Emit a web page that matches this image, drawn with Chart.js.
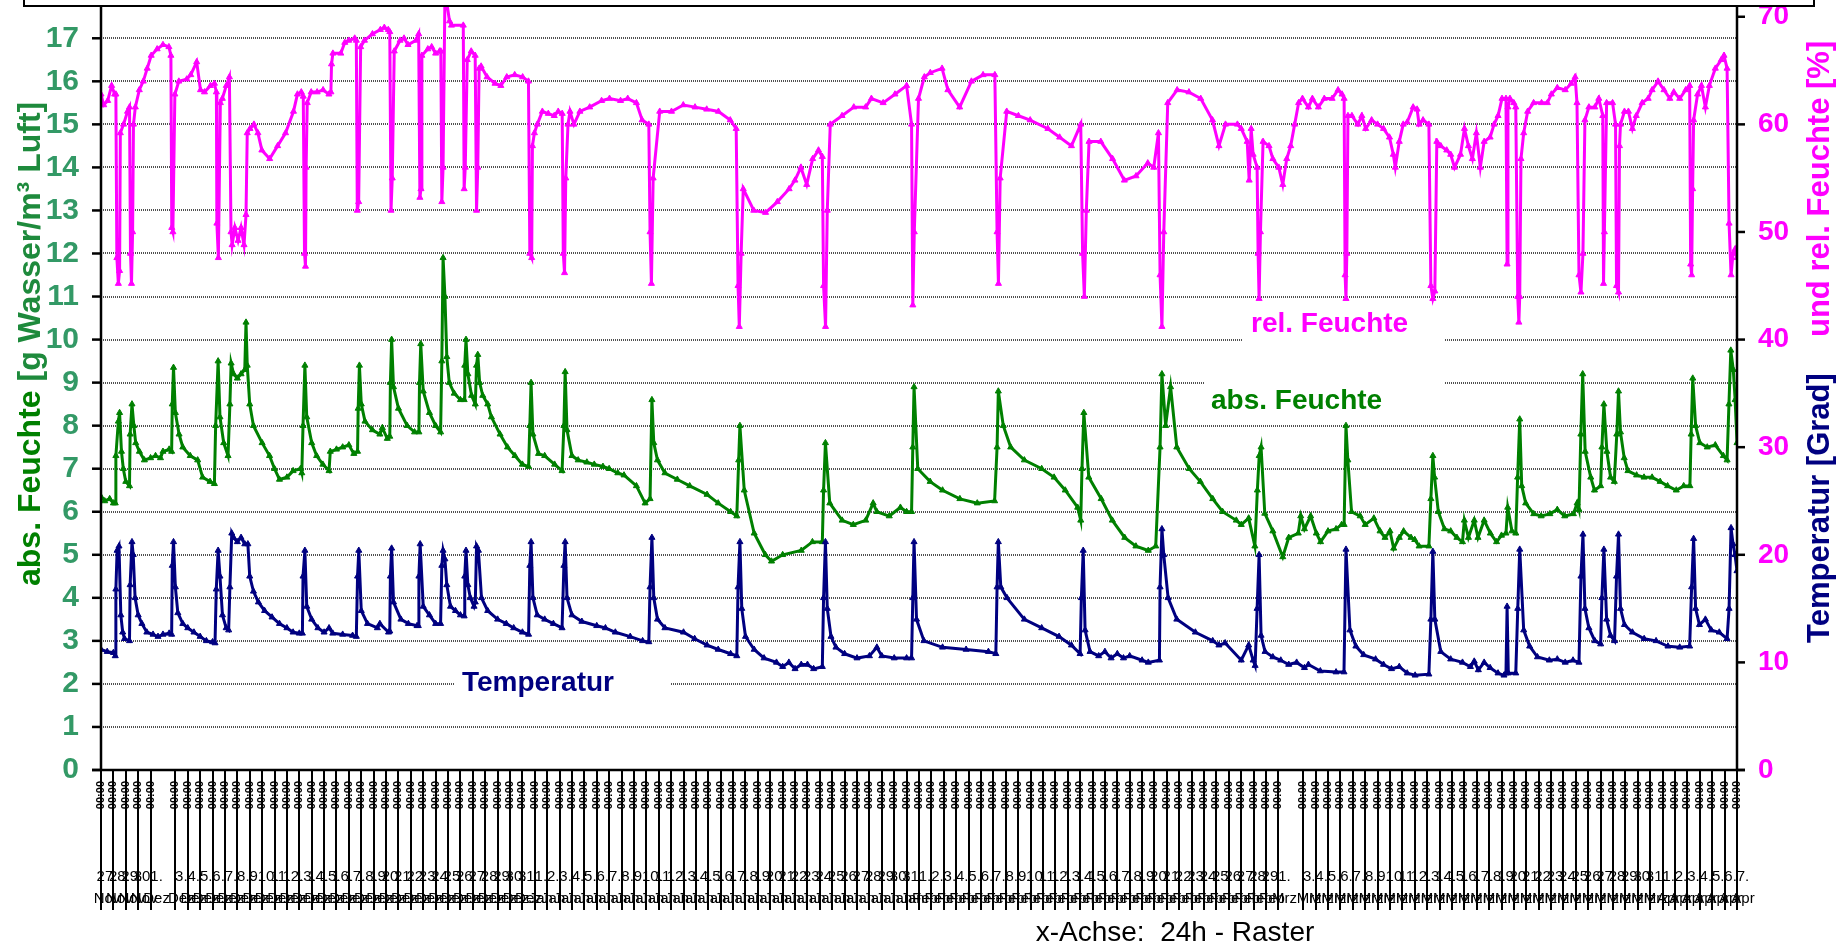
<!DOCTYPE html>
<html><head><meta charset="utf-8">
<script src="https://cdn.jsdelivr.net/npm/chart.js@4.4.1/dist/chart.umd.min.js"></script>
<style>html,body{margin:0;padding:0;background:#fff;overflow:hidden}</style>
</head><body>
<canvas id="c" width="1845" height="946"></canvas>
<script>
const SANS = "'Liberation Sans', Arial, sans-serif";
const NARROW = "'Liberation Sans Narrow', 'Arial Narrow', 'Liberation Sans', Arial, sans-serif";

// x axis: days since 27 Nov 00:00 (24h grid)
const monthSpans = [['Nov',27,30],['Dez',1,31],['Jan',1,31],['Feb',1,29],['Mrz',1,31],['Apr',1,7]];
const skippedDays = [5, 96];
const leftTicks = [0,1,2,3,4,5,6,7,8,9,10,11,12,13,14,15,16,17];
const rightTicks = [0,10,20,30,40,50,60,70];

// Temperatur [Grad] (right axis)
const temperatur = [
[0,11.2],[0.5,11.0],[1.0,10.9],[1.15,10.6],[1.2,16.8],[1.3,20.4],[1.45,20.8],[1.6,14.4],[1.75,12.8],[1.9,12.2],[2.3,12.0],[2.35,17.2],[2.5,21.2],[2.6,20.0],[2.75,16.0],[3.0,14.4],[3.3,13.6],[3.7,12.8],[4.2,12.6],[4.6,12.4],[5.0,12.6],[5.5,12.7],[5.7,12.6],[5.75,19.0],[5.85,21.2],[6.0,17.0],[6.2,14.6],[6.6,13.6],[7.0,13.2],[7.5,12.8],[8.0,12.4],[8.5,12.0],[9.0,11.9],[9.2,11.8],[9.3,16.8],[9.45,20.4],[9.6,18.0],[9.8,14.4],[10.1,13.2],[10.3,13.0],[10.4,17.0],[10.55,22.0],[10.7,21.6],[11.0,21.2],[11.3,21.6],[11.6,21.0],[11.85,21.0],[12.0,18.0],[12.3,16.6],[12.7,15.6],[13.2,14.8],[13.8,14.2],[14.4,13.6],[15.0,13.2],[15.5,12.8],[16.0,12.7],[16.25,12.7],[16.3,18.0],[16.45,20.4],[16.6,15.2],[17.0,14.0],[17.5,13.2],[18.0,12.8],[18.4,13.2],[18.7,12.7],[19.5,12.6],[20.3,12.5],[20.6,12.4],[20.7,18.0],[20.8,20.4],[21.0,14.8],[21.5,13.6],[22.3,13.2],[22.5,13.6],[23.2,12.8],[23.3,12.9],[23.35,18.0],[23.45,20.6],[23.6,15.6],[24.2,14.0],[24.8,13.6],[25.5,13.4],[25.6,13.4],[25.65,18.0],[25.75,21.0],[26.0,15.2],[26.5,14.4],[27.0,13.6],[27.4,13.6],[27.5,19.0],[27.6,20.4],[27.75,19.6],[27.9,17.2],[28.2,15.2],[28.6,14.8],[29.0,14.4],[29.3,14.3],[29.35,18.0],[29.45,20.4],[29.6,17.2],[29.8,16.0],[30.1,15.2],[30.2,15.6],[30.3,20.8],[30.45,20.4],[30.7,16.0],[31.2,14.8],[32.0,14.0],[32.7,13.6],[33.3,13.2],[34.0,12.8],[34.5,12.6],[34.6,19.0],[34.7,21.2],[34.85,16.0],[35.2,14.4],[35.8,14.0],[36.5,13.6],[37.2,13.2],[37.35,19.0],[37.45,21.2],[37.6,16.0],[38.0,14.4],[38.8,13.8],[40.0,13.4],[40.7,13.2],[41.5,12.8],
[42.7,12.4],[43.7,12.0],[44.2,11.9],[44.3,17.0],[44.45,21.6],[44.6,16.0],[44.9,14.0],[45.5,13.2],[47.0,12.8],[47.9,12.2],[48.9,11.6],[49.8,11.2],[50.8,10.8],[51.3,10.6],[51.4,17.0],[51.55,21.2],[51.7,15.0],[52.0,12.4],[52.7,11.2],[53.5,10.4],[54.5,10.0],[55.0,9.6],[55.5,10.0],[56.0,9.4],[56.5,9.8],[57.0,9.8],[57.5,9.4],[58.2,9.6],[58.3,16.0],[58.45,21.2],[58.6,15.0],[58.9,12.4],[59.3,11.4],[60.0,10.8],[61.0,10.4],[62.0,10.6],[62.6,11.4],[63.0,10.6],[64.0,10.4],[65.0,10.4],[65.4,10.4],[65.5,16.0],[65.6,21.2],[65.8,14.0],[66.4,12.0],[67.9,11.4],[69.8,11.2],[71.6,11.0],[72.2,10.8],[72.3,17.0],[72.4,21.2],[72.6,17.0],[73.1,16.0],[74.5,14.0],[75.9,13.2],[77.3,12.4],[78.3,11.6],[79.0,10.8],[79.1,16.0],[79.25,20.4],[79.4,13.0],[79.8,11.0],[80.5,10.6],[81.0,11.0],[81.5,10.4],[82.0,10.8],[82.5,10.4],[83.0,10.6],[84.0,10.2],[84.5,10.0],[85.4,10.2],[85.45,17.0],[85.6,22.4],[85.75,20.0],[86.1,16.0],[86.8,14.0],[88.3,12.8],[89.7,12.0],[90.2,11.6],[90.7,11.8],
[92.0,10.2],[92.6,11.6],[92.96,10.2],[93.12,9.7],[93.28,15.0],[93.44,20.0],[93.6,12.5],[93.92,11.0],[94.55,10.5],[95.19,10.2],[95.83,9.8],[96.47,10.0],[97.1,9.5],[97.42,9.8],[98.38,9.2],[99.65,9.1],[100.29,9.1],[100.45,20.5],[100.77,13.0],[101.25,11.5],[101.88,10.7],[102.84,10.3],[103.48,9.8],[104.12,9.4],[104.75,9.6],[105.39,9.0],[106.03,8.8],[107.14,8.9],[107.3,14.0],[107.46,20.3],[107.62,14.0],[108.1,11.0],[108.9,10.3],[109.85,10.0],[110.49,9.6],[110.8,10.1],[111.13,9.3],[111.6,10.0],[112.08,9.5],[112.72,9.0],[113.2,8.8],[113.36,9.0],[113.45,15.2],[113.55,9.0],[114.15,9.0],[114.31,15.0],[114.47,20.5],[114.79,13.0],[115.27,11.5],[115.9,10.5],[116.86,10.2],[117.5,10.3],[118.14,10.0],[118.77,10.2],[119.25,10.0],[119.41,18.0],[119.57,21.9],[119.73,15.0],[120.05,13.2],[120.53,12.0],[121.0,11.7],[121.1,16.0],[121.26,20.5],[121.48,14.0],[121.8,12.5],[122.12,12.0],[122.28,18.0],[122.44,21.9],[122.6,15.0],[122.92,13.5],[123.56,12.8],[124.51,12.2],[125.47,12.0],[126.43,11.5],[127.38,11.4],[128.18,11.5],[128.34,17.0],[128.5,21.5],[128.66,15.0],[128.97,13.5],[129.45,14.0],[129.93,13.0],[130.57,12.8],[131.2,12.2],[131.36,15.0],[131.52,22.5],[131.68,21.0],[131.84,20.0],[132.0,18.5]
];

// abs. Feuchte [g Wasser/m3 Luft] (left axis)
const absFeuchte = [
[0,6.35],[0.3,6.25],[0.7,6.3],[1.0,6.2],[1.15,6.2],[1.2,7.3],[1.4,8.1],[1.5,8.3],[1.65,7.4],[1.8,7.0],[2.0,6.7],[2.3,6.6],[2.35,7.8],[2.5,8.5],[2.65,8.0],[2.8,7.6],[3.1,7.4],[3.5,7.2],[4.0,7.25],[4.4,7.3],[4.8,7.25],[5.0,7.4],[5.5,7.45],[5.7,7.4],[5.75,8.5],[5.85,9.35],[6.0,8.3],[6.3,7.8],[6.6,7.5],[7.2,7.3],[7.8,7.2],[8.2,6.8],[8.8,6.7],[9.15,6.65],[9.25,8.0],[9.45,9.5],[9.6,8.2],[9.9,7.6],[10.25,7.3],[10.4,8.5],[10.5,9.45],[10.7,9.2],[11.0,9.1],[11.3,9.2],[11.6,9.3],[11.7,10.4],[11.8,9.4],[12.0,8.5],[12.3,8.0],[13.0,7.6],[13.6,7.3],[14.0,7.0],[14.4,6.75],[15.0,6.8],[15.5,6.95],[16.1,7.0],[16.2,6.9],[16.3,8.0],[16.45,9.4],[16.6,8.2],[17.0,7.6],[17.4,7.3],[17.9,7.1],[18.4,6.95],[18.5,7.4],[19.0,7.45],[19.5,7.5],[20.0,7.55],[20.4,7.35],[20.7,7.4],[20.75,8.4],[20.85,9.4],[21.0,8.5],[21.3,8.1],[21.9,7.9],[22.5,7.8],[22.7,7.95],[23.1,7.7],[23.3,7.75],[23.35,9.0],[23.45,10.0],[23.6,8.9],[24.0,8.4],[24.7,8.0],[25.3,7.85],[25.65,7.85],[25.7,9.0],[25.8,9.9],[26.0,8.8],[26.5,8.3],[27.0,8.0],[27.4,7.85],[27.5,9.5],[27.6,11.9],[27.75,11.0],[27.9,9.6],[28.1,9.0],[28.5,8.75],[29.0,8.6],[29.3,8.6],[29.35,9.4],[29.45,10.0],[29.6,9.2],[29.9,8.7],[30.2,8.5],[30.3,9.4],[30.4,9.65],[30.55,9.0],[30.8,8.7],[31.2,8.5],[31.5,8.2],[32.2,7.8],[32.8,7.5],[33.4,7.3],[34.0,7.1],[34.5,7.05],[34.6,8.0],[34.7,9.0],[34.85,7.8],[35.3,7.35],[35.8,7.3],[36.6,7.1],[37.2,6.95],[37.35,8.0],[37.45,9.25],[37.6,7.9],[38.0,7.3],[38.5,7.2],[39.2,7.15],[39.8,7.1],[40.5,7.05],[41.0,7.0],[41.7,6.9],
[42.2,6.85],[43.2,6.6],[43.9,6.2],[44.3,6.3],[44.45,8.6],[44.6,7.6],[44.9,7.2],[45.5,6.9],[46.5,6.75],[47.5,6.6],[48.9,6.4],[49.8,6.2],[50.8,6.0],[51.3,5.9],[51.45,7.2],[51.55,8.0],[51.9,6.5],[52.7,5.5],[53.6,5.0],[54.1,4.85],[55.0,5.0],[56.5,5.1],[57.4,5.3],[58.2,5.3],[58.3,6.5],[58.45,7.6],[58.8,6.2],[59.8,5.8],[60.7,5.7],[61.7,5.8],[62.3,6.2],[62.6,6.0],[63.6,5.9],[64.5,6.1],[65.0,6.0],[65.4,6.0],[65.5,7.5],[65.6,8.9],[65.9,7.0],[66.9,6.7],[67.9,6.5],[69.3,6.3],[70.7,6.2],[72.1,6.25],[72.3,7.5],[72.4,8.8],[72.8,8.0],[73.4,7.5],[74.5,7.2],[75.9,7.0],[76.9,6.8],[77.8,6.5],[78.8,6.1],[79.05,5.8],[79.15,7.0],[79.3,8.3],[79.7,6.8],[80.7,6.3],[81.6,5.8],[82.6,5.4],[83.5,5.2],[84.5,5.1],[85.1,5.2],[85.45,7.5],[85.6,9.2],[85.9,8.0],[86.3,8.9],[86.8,7.5],[87.8,7.0],[88.7,6.7],[89.7,6.3],[90.5,6.0],
[91.6,5.8],[92.0,5.7],[92.6,5.85],[93.1,5.2],[93.3,6.5],[93.45,7.3],[93.6,7.5],[93.9,5.96],[94.55,5.55],[95.35,4.95],[95.83,5.4],[96.6,5.5],[96.8,5.9],[97.1,5.6],[97.6,5.9],[98.06,5.5],[98.4,5.3],[99.0,5.55],[99.65,5.6],[100.1,5.7],[100.3,5.7],[100.45,8.0],[100.6,7.2],[100.9,6.0],[101.6,5.9],[102.0,5.7],[102.7,5.85],[103.2,5.55],[103.6,5.4],[104.0,5.55],[104.3,5.15],[104.75,5.4],[105.1,5.55],[105.7,5.4],[106.0,5.35],[106.35,5.2],[107.14,5.2],[107.3,6.3],[107.46,7.3],[107.6,6.8],[107.9,6.0],[108.4,5.6],[108.9,5.55],[109.4,5.4],[109.85,5.3],[110.0,5.8],[110.33,5.4],[110.8,5.8],[111.1,5.4],[111.6,5.8],[112.1,5.5],[112.6,5.3],[113.0,5.45],[113.36,5.5],[113.5,6.1],[113.84,5.55],[114.15,5.5],[114.3,6.8],[114.47,8.15],[114.63,6.6],[114.95,6.2],[115.6,5.95],[116.2,5.9],[116.9,5.95],[117.5,6.05],[118.1,5.9],[118.8,5.95],[119.1,6.2],[119.25,6.05],[119.4,7.8],[119.55,9.2],[119.75,7.4],[120.2,6.8],[120.5,6.5],[121.0,6.6],[121.1,7.5],[121.26,8.5],[121.5,7.4],[121.8,6.8],[122.1,6.7],[122.3,7.8],[122.44,8.8],[122.6,7.85],[122.9,7.25],[123.2,6.95],[123.9,6.85],[124.5,6.8],[125.15,6.8],[125.8,6.7],[126.4,6.6],[127.1,6.5],[127.7,6.6],[128.2,6.6],[128.3,7.8],[128.43,9.1],[128.66,8.0],[129.0,7.6],[129.6,7.5],[130.25,7.55],[130.9,7.3],[131.2,7.2],[131.35,8.5],[131.5,9.75],[131.7,9.3],[131.85,8.6],[132.0,7.6]
];

// rel. Feuchte [%] (right axis)
const relFeuchte = [
[0,62.8],[0.22,61.8],[0.54,62.2],[0.86,63.6],[1.1,62.8],[1.2,62.8],[1.28,47.6],[1.4,45.2],[1.5,46.4],[1.56,59.2],[1.82,60.0],[2.14,61.2],[2.3,61.6],[2.38,48.0],[2.46,45.2],[2.55,50.0],[2.62,60.0],[2.77,61.6],[3.09,63.2],[3.41,64.0],[3.73,65.2],[4.05,66.4],[4.53,67.0],[5.0,67.4],[5.48,67.2],[5.64,66.4],[5.71,50.4],[5.8,50.0],[5.96,62.8],[6.28,64.0],[6.92,64.2],[7.24,64.6],[7.72,65.8],[8.03,63.2],[8.35,63.0],[8.83,63.6],[9.15,63.8],[9.31,63.0],[9.35,50.8],[9.47,47.6],[9.63,62.0],[9.79,62.4],[10.11,63.6],[10.36,64.4],[10.49,50.0],[10.58,48.8],[10.8,50.4],[11.06,49.2],[11.3,50.4],[11.54,48.8],[11.7,51.6],[11.8,59.2],[12.02,59.6],[12.34,60.0],[12.66,59.2],[12.98,57.6],[13.61,56.8],[14.25,58.0],[14.89,59.2],[15.53,61.2],[15.85,62.8],[16.16,63.0],[16.32,62.6],[16.42,48.0],[16.5,46.8],[16.55,56.0],[16.64,62.0],[16.96,63.0],[17.44,63.0],[17.92,63.2],[18.39,62.8],[18.55,63.0],[18.6,65.6],[18.71,66.6],[19.35,66.6],[19.67,67.6],[19.99,67.8],[20.47,68.0],[20.6,67.8],[20.68,52.0],[20.79,52.8],[20.95,67.2],[21.26,67.8],[21.9,68.4],[22.54,68.8],[22.86,69.0],[23.18,68.8],[23.3,68.6],[23.4,52.0],[23.5,55.0],[23.66,66.8],[24.13,67.8],[24.45,68.0],[24.77,67.4],[25.41,67.8],[25.63,68.4],[25.73,53.2],[25.82,54.0],[25.89,66.4],[26.37,67.0],[26.68,67.2],[27.0,66.6],[27.32,66.8],[27.42,66.8],[27.5,52.8],[27.6,56.0],[27.75,72.0],[27.86,71.6],[28.12,69.6],[28.28,69.2],[29.23,69.2],[29.3,54.0],[29.39,56.0],[29.55,66.0],[29.87,66.8],[30.19,66.4],[30.3,52.0],[30.4,56.0],[30.51,65.2],[30.67,65.4],[31.15,64.4],[31.79,63.8],[32.26,63.6],[32.74,64.4],[33.38,64.6],[34.02,64.4],[34.49,64.0],[34.6,48.0],[34.75,47.6],[34.81,58.0],[34.97,59.2],[35.2,60.0],[35.61,61.2],[36.09,61.0],[36.57,60.8],[36.89,61.2],[37.21,61.0],[37.3,48.0],[37.4,46.2],[37.5,55.0],[37.68,60.0],[37.84,61.2],[38.16,60.0],[38.64,61.2],[39.43,61.6],[40.39,62.2],[41.03,62.4],[41.92,62.2],
[42.5,62.4],[43.2,62.0],[43.66,60.4],[44.2,60.0],[44.3,50.0],[44.41,45.2],[44.55,55.0],[45.08,61.2],[46.03,61.2],[46.98,61.8],[47.93,61.6],[48.87,61.4],[49.82,61.2],[50.77,60.4],[51.25,59.6],[51.4,45.0],[51.5,41.2],[51.65,48.0],[51.82,54.0],[52.67,52.0],[53.62,51.8],[54.57,52.8],[55.52,54.0],[55.99,54.8],[56.47,56.0],[56.94,54.4],[57.42,56.8],[57.89,57.6],[58.2,57.0],[58.3,45.0],[58.46,41.2],[58.6,52.0],[58.84,60.0],[59.79,60.8],[60.74,61.6],[61.69,61.6],[62.16,62.4],[63.11,62.0],[64.06,62.8],[65.0,63.6],[65.4,60.0],[65.5,43.2],[65.62,50.0],[65.96,62.4],[66.43,64.4],[66.91,64.8],[67.86,65.2],[68.33,63.2],[69.28,61.6],[70.23,64.0],[71.17,64.6],[72.12,64.6],[72.3,50.0],[72.41,45.2],[72.55,55.0],[73.08,61.2],[74.02,60.8],[74.97,60.4],[76.4,59.6],[77.35,58.8],[78.3,58.0],[79.05,60.0],[79.2,48.0],[79.34,44.0],[79.5,52.0],[79.72,58.4],[80.67,58.4],[81.62,56.8],[82.57,54.8],[83.51,55.2],[84.46,56.4],[84.94,56.0],[85.32,59.2],[85.45,46.0],[85.6,41.2],[85.75,50.0],[86.07,62.0],[86.83,63.2],[87.78,63.0],[88.73,62.4],[89.68,60.4],[90.2,58.0],
[90.73,60.0],[91.69,60.0],[92.0,59.6],[92.48,58.4],[92.64,54.8],[92.8,59.6],[92.96,57.2],[93.28,56.0],[93.36,48.0],[93.44,43.8],[93.55,50.0],[93.76,58.4],[94.24,58.0],[94.55,56.8],[95.03,56.0],[95.35,54.4],[95.67,56.8],[95.99,58.0],[96.31,60.0],[96.63,62.0],[96.94,62.4],[97.42,61.6],[97.74,62.4],[98.22,61.6],[98.7,62.4],[99.33,62.4],[99.81,63.2],[100.13,62.8],[100.3,62.4],[100.38,46.0],[100.45,43.8],[100.52,48.0],[100.61,60.8],[100.93,60.8],[101.41,60.0],[101.73,60.8],[102.04,59.6],[102.52,60.4],[103.0,60.0],[103.48,59.6],[103.96,58.8],[104.27,57.2],[104.43,56.0],[104.75,58.4],[105.07,60.0],[105.39,60.2],[105.87,61.6],[106.19,61.4],[106.35,60.0],[106.67,60.4],[107.14,60.0],[107.3,45.0],[107.46,43.8],[107.62,44.5],[107.78,58.4],[108.1,58.0],[108.58,57.6],[108.9,57.2],[109.21,56.0],[109.69,57.2],[110.01,59.6],[110.33,58.0],[110.65,56.8],[110.97,59.2],[111.29,56.0],[111.6,58.4],[112.08,58.8],[112.4,60.0],[112.72,60.8],[113.04,62.4],[113.36,62.4],[113.45,47.0],[113.52,61.6],[113.68,62.4],[113.99,62.0],[114.15,61.6],[114.31,44.0],[114.4,41.6],[114.47,44.0],[114.57,56.8],[114.79,59.2],[115.11,61.2],[115.59,62.0],[116.23,62.0],[116.7,62.0],[117.02,62.8],[117.5,63.4],[118.14,63.2],[118.62,63.8],[118.94,64.4],[119.09,62.0],[119.25,46.0],[119.41,44.4],[119.57,48.0],[119.73,60.4],[120.05,61.6],[120.53,61.6],[120.85,62.4],[121.17,60.8],[121.23,45.2],[121.3,50.0],[121.48,62.0],[121.96,62.0],[122.2,60.0],[122.28,45.0],[122.44,44.4],[122.52,58.0],[122.6,60.0],[122.92,61.2],[123.24,61.2],[123.56,59.6],[123.87,60.8],[124.35,62.0],[124.83,62.4],[125.15,63.2],[125.63,64.0],[126.11,63.2],[126.58,62.4],[126.9,63.0],[127.38,62.4],[127.86,63.2],[128.18,63.6],[128.26,47.0],[128.34,46.0],[128.42,54.0],[128.5,60.4],[128.82,62.8],[129.13,63.6],[129.45,61.6],[129.77,63.6],[130.25,65.2],[130.73,66.0],[130.95,66.4],[131.2,65.2],[131.36,50.8],[131.52,46.0],[131.68,48.0],[131.84,48.4],[132.0,47.6]
];

// tick labels built from the month spans
const tickDays = [];
const dayLabel = {};
(function(){
  let i = 0;
  for (const [m, a, b] of monthSpans) {
    for (let d = a; d <= b; d++) {
      if (!skippedDays.includes(i)) { tickDays.push(i); dayLabel[i] = [d + '.', m]; }
      i++;
    }
  }
})();

const seriesNotes = [
  {text:'rel. Feuchte', color:'#FF00FF', box:[1243,300,201,46], tx:1251, ty:332},
  {text:'abs. Feuchte', color:'#008000', box:[1205,372,239,46], tx:1211, ty:409},
  {text:'Temperatur',   color:'#000080', box:[454,663,217,42], tx:462, ty:691}
];

function seg(ctx, x1, y1, x2, y2){ ctx.beginPath(); ctx.moveTo(x1,y1); ctx.lineTo(x2,y2); ctx.stroke(); }

const decor = {
  id: 'decor',
  beforeDatasetsDraw(chart) {
    const {ctx, chartArea: ca, scales} = chart;
    ctx.save();
    ctx.strokeStyle = '#505050'; ctx.lineWidth = 2; ctx.setLineDash([1,1]);
    for (const v of leftTicks) {
      if (v === 0) continue;
      const py = Math.round(scales.y.getPixelForValue(v));
      seg(ctx, ca.left, py, ca.right, py);
    }
    ctx.setLineDash([]);
    for (const n of seriesNotes) {
      ctx.fillStyle = '#fff';
      ctx.fillRect(n.box[0], n.box[1], n.box[2], n.box[3]);
      ctx.fillStyle = n.color;
      ctx.font = 'bold 28px ' + SANS;
      ctx.textAlign = 'left'; ctx.textBaseline = 'alphabetic';
      ctx.fillText(n.text, n.tx, n.ty);
    }
    ctx.restore();
  },
  afterDraw(chart) {
    const {ctx, chartArea: ca, scales} = chart;
    ctx.save();
    ctx.strokeStyle = '#000';
    ctx.lineWidth = 2.5;
    seg(ctx, ca.left, 6, ca.left, ca.bottom);
    seg(ctx, ca.right, 6, ca.right, ca.bottom);
    seg(ctx, ca.left - 9, ca.bottom, ca.right + 8, ca.bottom);
    for (const v of leftTicks) { const py = scales.y.getPixelForValue(v); seg(ctx, ca.left - 9, py, ca.left, py); }
    for (const v of rightTicks) { const py = scales.y2.getPixelForValue(v); seg(ctx, ca.right, py, ca.right + 8, py); }
    ctx.lineWidth = 2;
    for (const d of tickDays) { const px = Math.round(scales.x.getPixelForValue(d)); seg(ctx, px, ca.bottom, px, ca.bottom + 140); }
    ctx.fillStyle = '#000';
    ctx.font = 'bold 11px ' + SANS;
    ctx.textAlign = 'right'; ctx.textBaseline = 'middle';
    for (const d of tickDays) {
      const px = Math.round(scales.x.getPixelForValue(d));
      ctx.save(); ctx.translate(px, ca.bottom + 11); ctx.rotate(-Math.PI/2); ctx.fillText('00:00', 0, 0); ctx.restore();
    }
    // left axis title
    ctx.save();
    ctx.translate(40, 586); ctx.rotate(-Math.PI/2);
    ctx.font = 'bold 32px ' + SANS; ctx.textAlign = 'left'; ctx.textBaseline = 'alphabetic';
    const p1 = 'abs. Feuchte ';
    ctx.fillStyle = '#008000'; ctx.fillText(p1, 0, 0);
    const w1 = ctx.measureText(p1).width;
    ctx.fillStyle = '#1e8a3c'; ctx.fillText('[g Wasser/m³ Luft]', w1, 0);
    ctx.restore();
    // right axis title
    ctx.save();
    ctx.translate(1829, 643); ctx.rotate(-Math.PI/2);
    ctx.font = 'bold 31px ' + SANS; ctx.textAlign = 'left'; ctx.textBaseline = 'alphabetic';
    ctx.fillStyle = '#000080'; ctx.fillText('Temperatur [Grad]', 0, 0);
    ctx.fillStyle = '#FF00FF'; ctx.fillText('und rel. Feuchte [%]', 306, 0);
    ctx.restore();
    // x axis title
    ctx.font = '28px ' + SANS; ctx.fillStyle = '#000'; ctx.textAlign = 'center'; ctx.textBaseline = 'alphabetic';
    ctx.fillText('x-Achse:  24h - Raster', 1175, 941);
    // top box (cut off)
    ctx.lineWidth = 2;
    ctx.beginPath(); ctx.moveTo(24, 0); ctx.lineTo(24, 6); ctx.lineTo(1814, 6); ctx.lineTo(1814, 0); ctx.stroke();
    ctx.restore();
  }
};

function zeroPad(s){ s.paddingLeft = 0; s.paddingRight = 0; s.paddingTop = 0; s.paddingBottom = 0; }
const toXY = arr => arr.map(p => ({x: p[0], y: p[1]}));
const lineStyle = {borderWidth: 3, pointStyle: 'triangle', pointRadius: 3.5, pointBorderWidth: 1, tension: 0};

new Chart(document.getElementById('c'), {
  type: 'line',
  data: {
    datasets: [
      Object.assign({label:'Temperatur', data: toXY(temperatur), yAxisID:'y2', borderColor:'#000080', backgroundColor:'#000080'}, lineStyle),
      Object.assign({label:'abs. Feuchte', data: toXY(absFeuchte), yAxisID:'y', borderColor:'#008000', backgroundColor:'#008000'}, lineStyle),
      Object.assign({label:'rel. Feuchte', data: toXY(relFeuchte), yAxisID:'y2', borderColor:'#FF00FF', backgroundColor:'#FF00FF'}, lineStyle)
    ]
  },
  options: {
    responsive: false, animation: false, devicePixelRatio: 1,
    layout: {padding: {top: 6, left: 0, right: 0, bottom: 0}},
    plugins: {legend: {display: false}, tooltip: {enabled: false}, title: {display: false}},
    scales: {
      x: {
        type: 'linear', position: 'bottom', min: 0, max: 132,
        grid: {display: false, drawTicks: false}, border: {display: false},
        afterBuildTicks: s => { s.ticks = tickDays.map(v => ({value: v})); },
        afterFit: s => { s.height = 176; zeroPad(s); },
        ticks: {autoSkip: false, maxRotation: 0, minRotation: 0, padding: 96, labelOffset: 6, color: '#000',
          font: {family: NARROW, size: 15, lineHeight: 1.45},
          callback: v => dayLabel[v] || ''}
      },
      y: {
        type: 'linear', position: 'left', min: 0, max: 17.75,
        grid: {display: false, drawTicks: false}, border: {display: false},
        afterBuildTicks: s => { s.ticks = leftTicks.map(v => ({value: v})); },
        afterFit: s => { s.width = 101; zeroPad(s); },
        ticks: {padding: 22, color: '#339966', font: {family: NARROW, size: 30, weight: 'bold'}}
      },
      y2: {
        type: 'linear', position: 'right', min: 0, max: 71,
        grid: {display: false, drawTicks: false}, border: {display: false},
        afterBuildTicks: s => { s.ticks = rightTicks.map(v => ({value: v})); },
        afterFit: s => { s.width = 108; zeroPad(s); },
        ticks: {padding: 21, color: '#FF00FF', font: {family: NARROW, size: 28, weight: 'bold'}}
      }
    }
  },
  plugins: [decor]
});
</script>
</body></html>
